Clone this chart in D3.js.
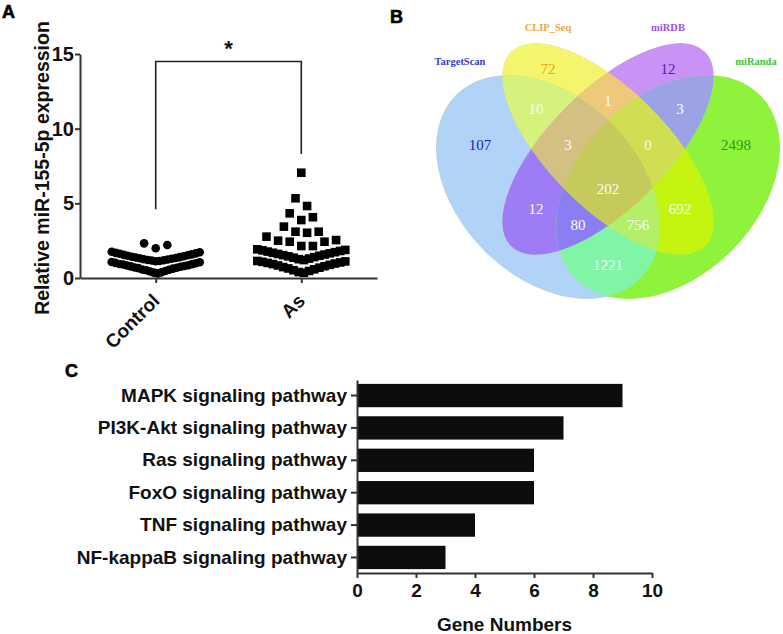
<!DOCTYPE html>
<html>
<head>
<meta charset="utf-8">
<script src="https://cdn.jsdelivr.net/npm/d3@7"></script>
<style>
  body { margin: 0; background: #fff; }
  svg { display: block; }
</style>
</head>
<body>
<div id="chart"></div>
<script>
// ---- panel A data ----
const groups = ["Control", "As"];
const controlValues = [0.31, 0.36, 0.38, 0.44, 0.47, 0.52, 0.55, 0.57, 0.63, 0.66, 0.69, 0.70,
    0.75, 0.78, 0.80, 0.84, 0.85, 0.90, 0.93, 0.94, 0.99, 1.01, 1.05, 1.07,
    1.12, 1.14, 1.17, 1.19, 1.21, 1.24, 1.26, 1.29, 1.32, 1.34, 1.37, 1.40,
    1.42, 1.46, 1.49, 1.52, 1.55, 1.58, 1.62, 1.65, 1.68, 1.72, 1.76,
    1.99, 2.21, 2.32];
const asValues = [0.35, 0.40, 0.47, 0.52, 0.58, 0.64, 0.69, 0.73, 0.79, 0.84, 0.88, 0.93,
    0.97, 1.01, 1.04, 1.08, 1.11, 1.14,
    1.20, 1.26, 1.30, 1.36, 1.40, 1.45, 1.49, 1.53, 1.57, 1.61, 1.65, 1.69,
    1.73, 1.77, 1.81, 1.85, 1.88, 1.92,
    2.14, 2.14, 2.43, 2.43, 2.50, 2.54, 2.77, 3.03, 3.10, 3.10, 3.44,
    3.88, 4.07, 4.33, 4.82, 5.34, 7.05];
const yTicksA = [0, 5, 10, 15];
const yLabelA = "Relative miR-155-5p expression";
const sigMark = "*";
const sigTop = 14.5, sigLeftEnd = 4.6, sigRightEnd = 8.3;

// ---- panel B data ----
const vennSets = ["TargetScan", "CLIP_Seq", "miRDB", "miRanda"];
const vennRegions = ["1000", "0100", "0010", "0001", "1100", "0110", "0011", "1001",
    "1110", "0111", "1010", "0101", "1011", "1101", "1111"];
const vennCounts = [107, 72, 12, 2498, 10, 1, 3, 1221, 3, 0, 12, 692, 80, 756, 202];

// ---- panel C data ----
const pathways = ["MAPK signaling pathway", "PI3K-Akt signaling pathway", "Ras signaling pathway",
    "FoxO signaling pathway", "TNF signaling pathway", "NF-kappaB signaling pathway"];
const geneCounts = [9, 7, 6, 6, 4, 3];
const xTicksC = [0, 2, 4, 6, 8, 10];
const xLabelC = "Gene Numbers";

// ---- styles / layout ----
const W = 783, H = 634;
const sans = "'Liberation Sans', Arial, sans-serif";
const serif = "'Liberation Serif', 'Times New Roman', serif";
const ink = "#111";

const svg = d3.select("#chart").append("svg").attr("width", W).attr("height", H);

function panelLabel(txt, x, y) {
    svg.append("text").attr("x", x).attr("y", y).text(txt)
        .attr("font-family", sans).attr("font-weight", "bold").attr("font-size", 18)
        .attr("fill", "#000").attr("stroke", "#000").attr("stroke-width", 0.6);
}

function styleAxis(g, size) {
    g.select(".domain").attr("stroke", "#333").attr("stroke-width", 2);
    g.selectAll(".tick line").attr("stroke", "#333").attr("stroke-width", 2);
    g.selectAll(".tick text").attr("font-family", sans).attr("font-weight", "bold")
        .attr("font-size", size).attr("fill", ink);
}

// GraphPad-like column scatter: group close values in rows, lowest in centre
function rowLayout(values, rowH, spacing, maxW) {
    const sorted = values.slice().sort((a, b) => a - b);
    const rows = [];
    let cur = null;
    sorted.forEach(v => {
        if (!cur || v - cur.start > rowH + 1e-9) { cur = { start: v, vals: [] }; rows.push(cur); }
        cur.vals.push(v);
    });
    const out = [];
    rows.forEach(r => {
        const n = r.vals.length;
        const sp = n > 1 ? Math.min(spacing, maxW / (n - 1)) : 0;
        r.vals.forEach((v, i) => {
            let k;
            if (n % 2) k = i === 0 ? 0 : (i % 2 ? (i + 1) / 2 : -i / 2);
            else k = (i % 2 === 0 ? 1 : -1) * (Math.floor(i / 2) + 0.5);
            out.push({ v: v, dx: k * sp });
        });
    });
    return out;
}

// ================= Panel A =================
panelLabel("A", 2, 18);
const gA = svg.append("g");
const xA = d3.scalePoint().domain(groups).range([80, 377]).padding(0.52);
const yA = d3.scaleLinear().domain([0, 15]).range([278, 54]);

gA.append("g").attr("transform", "translate(80,0)")
    .call(d3.axisLeft(yA).tickValues(yTicksA).tickSize(5).tickSizeOuter(0).tickPadding(1))
    .call(g => styleAxis(g, 20));

gA.append("g").attr("transform", "translate(0,278)")
    .call(d3.axisBottom(xA).tickSize(5).tickSizeOuter(0))
    .call(g => { styleAxis(g, 19); g.selectAll(".tick text").remove(); });

gA.selectAll(".xlab").data(groups).join("text")
    .attr("class", "xlab")
    .attr("transform", d => `translate(${xA(d) + 5},302) rotate(-45)`)
    .attr("text-anchor", "end")
    .attr("font-family", sans).attr("font-weight", "bold").attr("font-size", 19)
    .attr("fill", ink).text(d => d);

gA.append("text")
    .attr("transform", `translate(49,${(yA(0) + yA(15)) / 2 + 2}) rotate(-90)`)
    .attr("text-anchor", "middle")
    .attr("font-family", sans).attr("font-weight", "bold").attr("font-size", 19.5)
    .attr("fill", ink).text(yLabelA);

const ctrlPts = rowLayout(controlValues, 0.8, 11.6, 88);
const asPts = rowLayout(asValues, 0.8, 11.6, 88);

gA.selectAll(".ctrl").data(ctrlPts).join("circle")
    .attr("class", "ctrl")
    .attr("cx", d => xA("Control") + d.dx)
    .attr("cy", d => yA(d.v))
    .attr("r", 4.3).attr("fill", "#000");

gA.selectAll(".asp").data(asPts).join("rect")
    .attr("class", "asp")
    .attr("x", d => xA("As") + d.dx - 4.3)
    .attr("y", d => yA(d.v) - 4.3)
    .attr("width", 8.6).attr("height", 8.6).attr("fill", "#000");

// significance bracket
const bracket = d3.line()([
    [xA("Control"), yA(sigLeftEnd)], [xA("Control"), yA(sigTop)],
    [xA("As"), yA(sigTop)], [xA("As"), yA(sigRightEnd)]
]);
gA.append("path").attr("d", bracket).attr("fill", "none")
    .attr("stroke", "#222").attr("stroke-width", 1.6);
gA.append("text").attr("x", (xA("Control") + xA("As")) / 2).attr("y", yA(sigTop) - 5)
    .attr("text-anchor", "middle")
    .attr("font-family", sans).attr("font-weight", "bold").attr("font-size", 22)
    .attr("fill", ink).text(sigMark);

// ================= Panel B =================
panelLabel("B", 390, 23);
const gB = svg.append("g");
const vx = d3.scaleLinear().domain([0, 1]).range([408, 808]);
const vy = d3.scaleLinear().domain([0, 1]).range([377, -23]);
// outer ellipses are rounder than the two inner ones
const vennShapes = [
    { cx: 0.35, cy: 0.475, a: 0.325, b: 0.225, rot: 45 },
    { cx: 0.50, cy: 0.57, a: 0.343, b: 0.148, rot: 45 },
    { cx: 0.50, cy: 0.57, a: 0.343, b: 0.148, rot: -45 },
    { cx: 0.65, cy: 0.475, a: 0.325, b: 0.225, rot: -45 }
];
const regionFill = ["#b1d3f7", "#f3f66c", "#c892f7", "#8ff23b", "#d4f27c", "#efc97a", "#9ba3e6",
    "#7ff5a5", "#d5c083", "#d0df52", "#9d7cf6", "#c4f510", "#8a7ff2", "#b4f067", "#c6ca5a"];
const regionLabelPos = {
    "1000": [0.18, 0.58], "0100": [0.35, 0.77], "0010": [0.65, 0.77], "0001": [0.82, 0.58],
    "1100": [0.32, 0.67], "0110": [0.50, 0.69], "0011": [0.68, 0.67], "1001": [0.50, 0.28],
    "1110": [0.40, 0.58], "0111": [0.60, 0.58], "1010": [0.32, 0.42], "0101": [0.68, 0.42],
    "1011": [0.425, 0.38], "1101": [0.575, 0.38], "1111": [0.50, 0.47]
};
const regionTextColor = { "1000": "#2121c4", "0100": "#f2a21e", "0010": "#5b1ea8", "0001": "#2f9c1a" };
const setLabelPos = [[0.13, 0.79], [0.35, 0.875], [0.65, 0.875], [0.87, 0.79]];
const setLabelColor = ["#3b3bd2", "#f0a63c", "#a050e0", "#3fc13a"];

function addEllipse(sel, e) {
    return sel.append("ellipse")
        .attr("cx", vx(e.cx)).attr("cy", vy(e.cy))
        .attr("rx", vx(e.a) - vx(0)).attr("ry", vx(e.b) - vx(0))
        .attr("transform", `rotate(${e.rot},${vx(e.cx)},${vy(e.cy)})`);
}

const defs = svg.append("defs");
vennShapes.forEach((e, i) => {
    const inM = defs.append("mask").attr("id", "in" + i).attr("maskUnits", "userSpaceOnUse")
        .attr("x", 0).attr("y", 0).attr("width", W).attr("height", H);
    addEllipse(inM, e).attr("fill", "#fff");
    const outM = defs.append("mask").attr("id", "out" + i).attr("maskUnits", "userSpaceOnUse")
        .attr("x", 0).attr("y", 0).attr("width", W).attr("height", H);
    outM.append("rect").attr("width", W).attr("height", H).attr("fill", "#fff");
    addEllipse(outM, e).attr("fill", "#000");
});

// underlay hides the seams between regions
vennShapes.forEach(e => addEllipse(gB, e).attr("fill", "#bcd98a"));

vennRegions.forEach((key, r) => {
    let g = gB;
    for (let i = 0; i < 4; i++) {
        g = g.append("g").attr("mask", `url(#${key[i] === "1" ? "in" : "out"}${i})`);
    }
    g.append("rect").attr("x", 400).attr("y", 0).attr("width", W - 400).attr("height", 330)
        .attr("fill", regionFill[r]);
});

gB.selectAll(".cnt").data(vennRegions).join("text")
    .attr("class", "cnt")
    .attr("x", d => vx(regionLabelPos[d][0]))
    .attr("y", d => vy(regionLabelPos[d][1]))
    .attr("dy", "0.35em").attr("text-anchor", "middle")
    .attr("font-family", serif).attr("font-size", 15)
    .attr("fill", d => regionTextColor[d] || "#fbfbfb")
    .text((d, i) => vennCounts[i]);

gB.selectAll(".setlab").data(vennSets).join("text")
    .attr("class", "setlab")
    .attr("x", (d, i) => vx(setLabelPos[i][0]))
    .attr("y", (d, i) => vy(setLabelPos[i][1]))
    .attr("dy", "0.35em").attr("text-anchor", "middle")
    .attr("font-family", serif).attr("font-size", 10.5).attr("font-weight", "bold")
    .attr("fill", (d, i) => setLabelColor[i])
    .text(d => d);

// ================= Panel C =================
panelLabel("C", 65, 377);
const gC = svg.append("g");
const yC = d3.scaleBand().domain(pathways).range([380, 573]).paddingInner(0.28).paddingOuter(0.12);
const xC = d3.scaleLinear().domain([0, 10]).range([357, 652]);

gC.selectAll(".bar").data(pathways).join("rect")
    .attr("class", "bar")
    .attr("x", xC(0))
    .attr("y", d => yC(d))
    .attr("width", (d, i) => xC(geneCounts[i]) - xC(0))
    .attr("height", yC.bandwidth())
    .attr("fill", "#0d0d0d");

gC.append("g").attr("transform", "translate(357,0)")
    .call(d3.axisLeft(yC).tickSize(6).tickSizeOuter(0).tickPadding(4))
    .call(g => styleAxis(g, 19));

gC.append("g").attr("transform", "translate(0,573)")
    .call(d3.axisBottom(xC).tickValues(xTicksC).tickSize(5).tickSizeOuter(0).tickPadding(6))
    .call(g => styleAxis(g, 19));

gC.append("text").attr("x", (xC(0) + xC(10)) / 2).attr("y", 631)
    .attr("text-anchor", "middle")
    .attr("font-family", sans).attr("font-weight", "bold").attr("font-size", 19)
    .attr("fill", ink).text(xLabelC);
</script>
</body>
</html>
